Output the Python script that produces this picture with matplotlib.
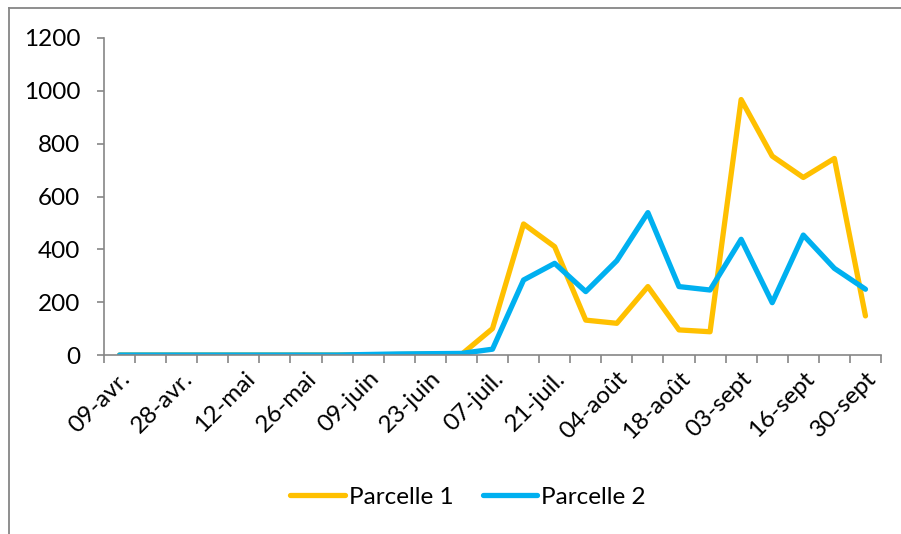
import matplotlib
matplotlib.use("Agg")
import matplotlib.pyplot as plt
from matplotlib.lines import Line2D
import numpy as np

plt.rcParams['font.family'] = ['Lato', 'DejaVu Sans']

# Tick labels shown every second sampling date
tick_labels = ["09-avr.", "28-avr.", "12-mai", "26-mai", "09-juin", "23-juin",
               "07-juil.", "21-juil.", "04-août", "18-août", "03-sept",
               "16-sept", "30-sept"]

parcelle_1 = [0, 0, 0, 0, 0, 0, 0, 0, 1, 2, 4, 2, 100, 496, 410, 132, 120,
              259, 95, 88, 967, 753, 672, 744, 148]
parcelle_2 = [0, 0, 0, 0, 0, 0, 0, 0, 2, 4, 5, 6, 22, 284, 347, 240, 357,
              539, 259, 246, 438, 198, 454, 328, 249]

yellow = "#FFC000"
blue = "#00B0F0"
grey = "#868686"
fs = 17.5

fig = plt.figure(figsize=(9.01, 5.34), dpi=100)
ax = fig.add_axes([104 / 901, 1 - 355 / 534, (881 - 104) / 901, (355 - 38) / 534])

x = np.arange(len(parcelle_1))
ax.plot(x, parcelle_1, color=yellow, lw=3.8, solid_capstyle='round',
        solid_joinstyle='round', label="Parcelle 1")
ax.plot(x, parcelle_2, color=blue, lw=3.8, solid_capstyle='round',
        solid_joinstyle='round', label="Parcelle 2")

ax.set_xlim(-0.5, len(x) - 0.5)
ax.set_ylim(0, 1200)
ax.set_yticks(np.arange(0, 1201, 200))

ax.set_xticks(np.arange(0, len(x), 2))
ax.set_xticklabels(tick_labels, rotation=45, ha='right', rotation_mode='anchor')
ax.set_xticks(np.arange(-0.5, len(x), 1), minor=True)
ax.tick_params(axis='x', which='major', length=0, pad=9, labelsize=fs)
ax.tick_params(axis='x', which='minor', length=6, width=1.2, color=grey)
ax.tick_params(axis='y', length=5, width=1.2, color=grey, pad=12, labelsize=fs)

for s in ('top', 'right'):
    ax.spines[s].set_visible(False)
for s in ('left', 'bottom'):
    ax.spines[s].set_color(grey)
    ax.spines[s].set_linewidth(1.2)

fig.legend(loc='center', bbox_to_anchor=(468 / 901, 1 - 497 / 534), ncol=2,
           frameon=False, fontsize=fs, handlelength=2.25, handletextpad=0.15,
           columnspacing=1.2)

# outer chart border (top and left edges)
fig.add_artist(Line2D([8.5 / 901, 1], [1 - 8 / 534, 1 - 8 / 534], color=grey,
                      lw=1.3, transform=fig.transFigure))
fig.add_artist(Line2D([8.5 / 901, 8.5 / 901], [0, 1 - 8 / 534], color=grey,
                      lw=1.3, transform=fig.transFigure))

fig.savefig("out.png", dpi=100)
